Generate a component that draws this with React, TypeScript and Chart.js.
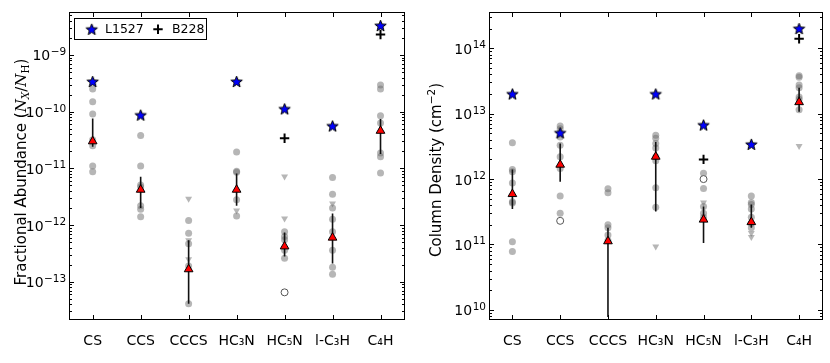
import React, { useEffect, useRef } from 'react';
import { Chart, registerables } from 'chart.js';

Chart.register(...registerables);

const FAM = '"DejaVu Sans", sans-serif';
const SERIF = '"DejaVu Serif", serif';

const categories = ['CS', 'CCS', 'CCCS', 'HC₃N', 'HC₅N', 'l-C₃H', 'C₄H'];

// ---------- Left panel: fractional abundance (N_X / N_H) ----------
const abundYMin = 2.14e-14;
const abundYMax = 5.66e-9;
const abundL1527 = [3.4e-10, 8.7e-11, null, 3.4e-10, 1.12e-10, 5.6e-11, 3.3e-9];
const abundB228 = [null, null, null, null, 3.4e-11, null, 2.3e-9];
const abundMedian = [3.0e-11, 4.2e-12, 1.66e-13, 4.2e-12, 4.2e-13, 6.0e-13, 4.6e-11];
const abundErrHigh = [7.6e-11, 7.1e-12, 5.4e-13, 8.1e-12, 7.4e-13, 1.6e-12, 7.4e-11];
const abundErrLow = [2.4e-11, 2.0e-12, 4.1e-14, 2.2e-12, 2.8e-13, 2.1e-13, 1.8e-11];
const abundDetections = [
  [2.5e-10, 1.5e-10, 9.1e-11, 3.2e-11, 2.5e-11, 1.1e-11, 8.7e-12],
  [3.8e-11, 1.1e-11, 5.1e-12, 4.7e-12, 2.2e-12, 1.9e-12, 1.4e-12],
  [1.2e-12, 7.2e-13, 4.7e-13, 1.9e-13, 4.1e-14],
  [1.95e-11, 8.9e-12, 8.5e-12, 2.8e-12, 1.45e-12],
  [7.6e-13, 6.3e-13, 5.5e-13, 3.6e-13, 2.6e-13],
  [6.9e-12, 3.5e-12, 2.0e-12, 1.26e-12, 7.6e-13, 3.6e-13, 1.8e-13, 1.35e-13],
  [2.95e-10, 2.5e-10, 8.5e-11, 6.3e-11, 1.86e-11, 1.6e-11, 8.3e-12],
];
const abundUpperLimits = [[], [], [2.9e-12, 5.4e-13, 2.5e-13], [1.8e-12], [7.2e-12, 1.3e-12], [2.4e-12], []];
const abundOpen = [[], [], [], [], [6.5e-14], [], []];

// ---------- Right panel: column density (cm^-2) ----------
const colYMin = 7.08e9;
const colYMax = 3.55e14;
const colL1527 = [2.0e13, 5.1e12, null, 2.0e13, 6.7e12, 3.4e12, 2.0e14];
const colB228 = [null, null, null, null, 2.0e12, null, 1.4e14];
const colMedian = [5.9e11, 1.66e12, 1.12e11, 2.2e12, 2.4e11, 2.2e11, 1.5e13];
const colErrHigh = [1.4e12, 3.5e12, 1.8e11, 3.7e12, 3.8e11, 4.1e11, 2.5e13];
const colErrLow = [3.5e11, 9.1e11, 7.8e9, 3.2e11, 1.05e11, 1.8e11, 1.07e13];
const colDetections = [
  [3.6e12, 1.4e12, 1.3e12, 8.7e11, 4.5e11, 4.3e11, 1.1e11, 7.8e10],
  [6.5e12, 5.9e12, 4.4e12, 3.3e12, 2.2e12, 1.45e12, 5.5e11, 3.0e11],
  [7.1e11, 6.2e11, 2.0e11, 1.8e11, 1.4e11, 1.15e11],
  [4.7e12, 4.2e12, 3.5e12, 3.0e12, 2.2e12, 1.9e12, 7.4e11, 3.7e11],
  [1.23e12, 7.2e11, 3.8e11, 3.0e11, 2.6e11],
  [5.5e11, 4.4e11, 4.1e11, 3.5e11, 2.6e11, 2.1e11, 1.8e11],
  [3.8e13, 3.6e13, 2.75e13, 2.5e13, 1.8e13, 1.66e13, 1.15e13],
];
const colUpperLimits = [[], [], [], [9.3e10], [4.4e11], [1.5e11, 1.3e11], [3.2e12]];
const colOpen = [[], [2.3e11], [], [], [1.0e12], [], []];

const GRAY = 'rgba(110,110,110,0.5)';

type Part = { t: string; font: string; dy?: number };
type Spec = {
  l1527: (number | null)[];
  b228: (number | null)[];
  median: number[];
  errLow: number[];
  errHigh: number[];
  detections: number[][];
  upper: number[][];
  open: number[][];
  yMin: number;
  yMax: number;
  leftW: number;
  padR: number;
  title: Part[];
  titleX: number;
  titleY: number;
  legend: boolean;
};

const leftSpec: Spec = {
  l1527: abundL1527, b228: abundB228, median: abundMedian, errLow: abundErrLow, errHigh: abundErrHigh,
  detections: abundDetections, upper: abundUpperLimits, open: abundOpen,
  yMin: abundYMin, yMax: abundYMax, leftW: 68.7, padR: 10.5,
  title: [
    { t: 'Fractional Abundance (', font: `15px ${FAM}` },
    { t: 'N', font: `italic 15px ${SERIF}` },
    { t: 'X', font: `italic 10.5px ${SERIF}`, dy: 3 },
    { t: '/', font: `15px ${SERIF}` },
    { t: 'N', font: `italic 15px ${SERIF}` },
    { t: 'H', font: `10.5px ${SERIF}`, dy: 3 },
    { t: ')', font: `15px ${FAM}` },
  ],
  titleX: 26, titleY: 172, legend: true,
};

const rightSpec: Spec = {
  l1527: colL1527, b228: colB228, median: colMedian, errLow: colErrLow, errHigh: colErrHigh,
  detections: colDetections, upper: colUpperLimits, open: colOpen,
  yMin: colYMin, yMax: colYMax, leftW: 73.5, padR: 5.5,
  title: [
    { t: 'Column Density (cm', font: `15px ${FAM}` },
    { t: '\u22122', font: `10.5px ${FAM}`, dy: -6 },
    { t: ')', font: `15px ${FAM}` },
  ],
  titleX: 26, titleY: 170, legend: false,
};

function makeStar(): HTMLCanvasElement {
  const c = document.createElement('canvas');
  c.width = 15;
  c.height = 15;
  const g = c.getContext('2d')!;
  const cx = 7.5, cy = 8, R = 6, r = 2.5;
  g.beginPath();
  for (let k = 0; k < 10; k++) {
    const rad = k % 2 === 0 ? R : r;
    const ang = -Math.PI / 2 + (k * Math.PI) / 5;
    const px = cx + rad * Math.cos(ang);
    const py = cy + rad * Math.sin(ang);
    if (k === 0) g.moveTo(px, py);
    else g.lineTo(px, py);
  }
  g.closePath();
  g.fillStyle = '#0000ff';
  g.fill();
  g.strokeStyle = '#000';
  g.lineWidth = 1;
  g.stroke();
  return c;
}

function logTicks(min: number, max: number) {
  const out: { value: number; major: boolean }[] = [];
  for (let e = Math.floor(Math.log10(min)); e <= Math.ceil(Math.log10(max)); e++) {
    for (let m = 1; m < 10; m++) {
      const v = m * Math.pow(10, e);
      if (v >= min && v <= max) out.push({ value: v, major: m === 1 });
    }
  }
  return out;
}

const single = (vals: (number | null)[]) =>
  vals.map((v, i) => (v == null ? null : { x: i, y: v })).filter((p) => p !== null);
const nested = (arr: number[][]) => arr.flatMap((vs, i) => vs.map((v) => ({ x: i, y: v })));

function build(canvas: HTMLCanvasElement, spec: Spec, star: HTMLCanvasElement) {
  const decor = {
    id: 'decor',
    afterDraw(chart: any) {
      const { ctx, chartArea: a } = chart;
      const ys = chart.scales.y;
      const xs = chart.scales.x;
      ctx.save();
      ctx.strokeStyle = '#000';
      ctx.lineWidth = 1;
      const L = Math.round(a.left) + 0.5;
      const R = Math.round(a.right) - 0.5;
      const T = Math.round(a.top) + 0.5;
      const B = Math.round(a.bottom) - 0.5;
      ctx.beginPath();
      ys.ticks.forEach((t: any) => {
        const py = Math.round(ys.getPixelForValue(t.value)) + 0.5;
        const len = t.major ? 4.5 : 2.5;
        ctx.moveTo(L, py);
        ctx.lineTo(L + len, py);
        ctx.moveTo(R, py);
        ctx.lineTo(R - len, py);
      });
      xs.ticks.forEach((t: any) => {
        const px = Math.round(xs.getPixelForValue(t.value)) + 0.5;
        ctx.moveTo(px, B);
        ctx.lineTo(px, B - 4.5);
        ctx.moveTo(px, T);
        ctx.lineTo(px, T + 4.5);
      });
      ctx.stroke();
      ctx.strokeRect(L, T, R - L, B - T);

      // y tick labels 10^n
      ctx.fillStyle = '#000';
      ctx.textAlign = 'left';
      ctx.textBaseline = 'alphabetic';
      ys.ticks
        .filter((t: any) => t.major)
        .forEach((t: any) => {
          const py = ys.getPixelForValue(t.value);
          const e = Math.round(Math.log10(t.value));
          const exp = e < 0 ? '\u2212' + -e : String(e);
          ctx.font = `14px ${FAM}`;
          const w10 = ctx.measureText('10').width;
          ctx.font = `10.5px ${FAM}`;
          const we = ctx.measureText(exp).width;
          const x0 = a.left - 3 - we - w10;
          ctx.font = `14px ${FAM}`;
          ctx.fillText('10', x0, py + 5.5);
          ctx.font = `10.5px ${FAM}`;
          ctx.fillText(exp, x0 + w10 + 0.5, py);
        });

      // y axis title (rotated rich text)
      ctx.save();
      ctx.translate(spec.titleX, spec.titleY);
      ctx.rotate(-Math.PI / 2);
      let total = 0;
      spec.title.forEach((p) => {
        ctx.font = p.font;
        total += ctx.measureText(p.t).width;
      });
      let x = -total / 2;
      spec.title.forEach((p) => {
        ctx.font = p.font;
        ctx.fillText(p.t, x, p.dy || 0);
        x += ctx.measureText(p.t).width;
      });
      ctx.restore();

      // legend
      if (spec.legend) {
        const bx = a.left + 5.6;
        const by = a.top + 6;
        ctx.strokeRect(Math.round(bx) + 0.5, Math.round(by) + 0.5, 132, 21);
        const cy = by + 11;
        ctx.drawImage(star, bx + 17.4 - star.width / 2, cy - star.height / 2);
        ctx.font = `12.5px ${FAM}`;
        ctx.textBaseline = 'middle';
        ctx.fillText(chart.data.datasets[0].label, bx + 30.7, cy);
        ctx.beginPath();
        ctx.lineWidth = 2;
        const px = bx + 83.7;
        ctx.moveTo(px - 4.7, cy);
        ctx.lineTo(px + 4.7, cy);
        ctx.moveTo(px, cy - 4.7);
        ctx.lineTo(px, cy + 4.7);
        ctx.stroke();
        ctx.fillText(chart.data.datasets[1].label, bx + 97.7, cy);
      }
      ctx.restore();
    },
  };

  const datasets: any[] = [
    {
      label: 'L1527', data: single(spec.l1527), pointStyle: star, pointRadius: 6, order: 0,
    },
    {
      label: 'B228', data: single(spec.b228), pointStyle: 'cross', pointRadius: 4.7,
      pointBorderWidth: 2, pointBorderColor: '#000', order: 1,
    },
    {
      label: 'Median', data: spec.median.map((v, i) => ({ x: i, y: v })), pointStyle: 'triangle',
      pointRadius: 5, pointBackgroundColor: '#ff0000', pointBorderColor: '#000', pointBorderWidth: 1, order: 2,
    },
    ...spec.errLow.map((lo, i) => ({
      label: 'range ' + categories[i],
      data: [{ x: i, y: lo }, { x: i, y: spec.errHigh[i] }],
      showLine: true, pointRadius: 0, borderColor: '#111', borderWidth: 1.6, fill: false, order: 3,
    })),
    {
      label: 'Non-detection', data: nested(spec.open), pointStyle: 'circle', pointRadius: 3.5,
      pointBackgroundColor: '#fff', pointBorderColor: '#555', pointBorderWidth: 1, order: 4,
    },
    {
      label: 'Upper limits', data: nested(spec.upper), pointStyle: 'triangle', pointRotation: 180, pointRadius: 4,
      pointBackgroundColor: GRAY, pointBorderColor: 'rgba(0,0,0,0)', pointBorderWidth: 0, order: 5,
    },
    {
      label: 'Sources', data: nested(spec.detections), pointStyle: 'circle', pointRadius: 3.5,
      pointBackgroundColor: GRAY, pointBorderColor: 'rgba(0,0,0,0)', pointBorderWidth: 0, order: 6,
    },
  ];

  return new Chart(canvas, {
    type: 'scatter',
    data: { datasets },
    options: {
      responsive: false,
      animation: false,
      devicePixelRatio: 1,
      layout: { padding: { left: 0, right: spec.padR, top: 12.3, bottom: 0 } },
      plugins: { legend: { display: false }, tooltip: { enabled: false }, title: { display: false } },
      scales: {
        x: {
          type: 'linear', min: -0.5, max: 6.5, bounds: 'data',
          afterBuildTicks: (s: any) => {
            s.ticks = categories.map((_, i) => ({ value: i }));
          },
          afterFit: (s: any) => {
            s.height = 43.3;
          },
          ticks: {
            callback: (v: any) => categories[v] ?? '',
            font: { family: 'DejaVu Sans', size: 14 },
            color: '#000', padding: 13, maxRotation: 0, autoSkip: false,
          },
          grid: { display: false, drawTicks: false },
          border: { display: false },
        },
        y: {
          type: 'logarithmic', min: spec.yMin, max: spec.yMax, bounds: 'data',
          afterBuildTicks: (s: any) => {
            s.ticks = logTicks(spec.yMin, spec.yMax);
          },
          afterFit: (s: any) => {
            s.width = spec.leftW;
          },
          ticks: { display: false },
          grid: { display: false, drawTicks: false },
          border: { display: false },
        },
      },
    } as any,
    plugins: [decor],
  });
}

export default function App() {
  const leftRef = useRef<HTMLCanvasElement>(null);
  const rightRef = useRef<HTMLCanvasElement>(null);
  useEffect(() => {
    const star = makeStar();
    const c1 = build(leftRef.current!, leftSpec, star);
    const c2 = build(rightRef.current!, rightSpec, star);
    return () => {
      c1.destroy();
      c2.destroy();
    };
  }, []);
  return (
    <div style={{ position: 'fixed', left: 0, top: 0, width: 830, height: 363, background: '#fff' }}>
      <canvas ref={leftRef} width={415} height={363}
        style={{ position: 'absolute', left: 0, top: 0, width: 415, height: 363 }} />
      <canvas ref={rightRef} width={415} height={363}
        style={{ position: 'absolute', left: 415, top: 0, width: 415, height: 363 }} />
    </div>
  );
}
